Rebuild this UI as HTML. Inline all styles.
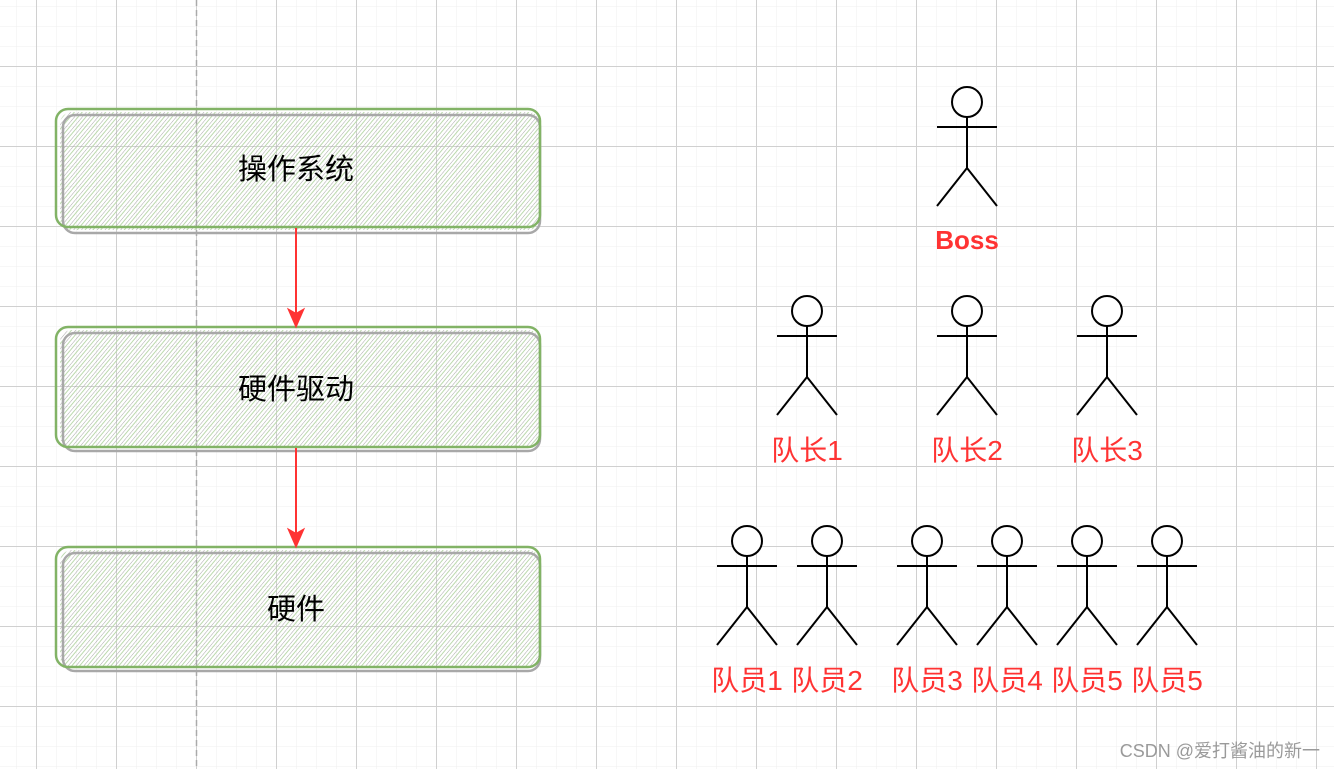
<!DOCTYPE html>
<html><head><meta charset="utf-8"><style>
html,body{margin:0;padding:0;background:#fff;}
svg{display:block;}
text{font-family:"Liberation Sans","Noto Sans CJK SC",sans-serif;}
</style></head><body>
<svg width="1334" height="769" viewBox="0 0 1334 769" xmlns="http://www.w3.org/2000/svg">
<defs>
<pattern id="minor" width="20" height="20" patternUnits="userSpaceOnUse" x="16" y="6">
<path d="M0 0H20M0 0V20" stroke="#efefef" stroke-width="1" fill="none"/>
</pattern>
<pattern id="major" width="80" height="80" patternUnits="userSpaceOnUse" x="36" y="66">
<path d="M0 0.5H80M0.5 0V80" stroke="#d0d0d0" stroke-width="1" fill="none"/>
</pattern>
<pattern id="hatch" width="6" height="6" patternUnits="userSpaceOnUse" patternTransform="rotate(40)">
<line x1="0" y1="0" x2="0" y2="6" stroke="#a8a8a8" stroke-width="1"/>
<line x1="3" y1="0" x2="3" y2="6" stroke="#bcd9ae" stroke-width="1"/>
</pattern>
</defs>
<rect width="1334" height="769" fill="#fff"/>
<rect width="1334" height="769" fill="url(#minor)"/>
<rect width="1334" height="769" fill="url(#major)"/>
<line x1="196.5" y1="0" x2="196.5" y2="769" stroke="#aaa" stroke-width="1.5" stroke-dasharray="6,4"/>

<g>
<rect x="60" y="112" width="480" height="118" rx="12" fill="url(#hatch)"/>
<rect x="63" y="115" width="477" height="118" rx="12" fill="none" stroke="#a8a8a8" stroke-width="2.5"/>
<rect x="56" y="109" width="484" height="118" rx="12" fill="none" stroke="#82b366" stroke-width="2.5"/>
<text x="296" y="179" font-size="29" text-anchor="middle" fill="#000">操作系统</text>
<rect x="60" y="330" width="480" height="118" rx="12" fill="url(#hatch)"/>
<rect x="63" y="333" width="477" height="118" rx="12" fill="none" stroke="#a8a8a8" stroke-width="2.5"/>
<rect x="56" y="327" width="484" height="120" rx="12" fill="none" stroke="#82b366" stroke-width="2.5"/>
<text x="296" y="399" font-size="29" text-anchor="middle" fill="#000">硬件驱动</text>
<rect x="60" y="550" width="480" height="118" rx="12" fill="url(#hatch)"/>
<rect x="63" y="553" width="477" height="118" rx="12" fill="none" stroke="#a8a8a8" stroke-width="2.5"/>
<rect x="56" y="547" width="484" height="120" rx="12" fill="none" stroke="#82b366" stroke-width="2.5"/>
<text x="296" y="619" font-size="29" text-anchor="middle" fill="#000">硬件</text>
</g>
<g stroke="#ff3333" stroke-width="2" fill="#ff3333">
<line x1="296" y1="228" x2="296" y2="318"/>
<path d="M289 310 L296 326 L303 310 L296 314 Z"/>
<line x1="296" y1="448" x2="296" y2="538"/>
<path d="M289 530 L296 546 L303 530 L296 534 Z"/>
</g>

<defs>
<g id="man" stroke="#000" stroke-width="2" fill="#fff">
<circle cx="0" cy="0" r="15"/>
<line x1="0" y1="15" x2="0" y2="66"/>
<line x1="-30" y1="25" x2="30" y2="25"/>
<polyline points="-30,104 0,66 30,104" fill="none"/>
</g>
</defs>
<use href="#man" x="967" y="102"/>
<text x="967" y="249" font-size="26" font-weight="bold" text-anchor="middle" fill="#ff3333" font-family="'Comic Sans MS','DejaVu Sans',sans-serif">Boss</text>

<use href="#man" x="807" y="311"/>
<use href="#man" x="967" y="311"/>
<use href="#man" x="1107" y="311"/>
<g font-size="28" fill="#ff3333" text-anchor="middle">
<text x="807" y="460">队长1</text>
<text x="967" y="460">队长2</text>
<text x="1107" y="460">队长3</text>
</g>

<use href="#man" x="747" y="541"/>
<use href="#man" x="827" y="541"/>
<use href="#man" x="927" y="541"/>
<use href="#man" x="1007" y="541"/>
<use href="#man" x="1087" y="541"/>
<use href="#man" x="1167" y="541"/>
<g font-size="28" fill="#ff3333" text-anchor="middle">
<text x="747" y="690">队员1</text>
<text x="827" y="690">队员2</text>
<text x="927" y="690">队员3</text>
<text x="1007" y="690">队员4</text>
<text x="1087" y="690">队员5</text>
<text x="1167" y="690">队员5</text>
</g>
<text x="1320" y="757" font-size="18" fill="#9a9a9a" text-anchor="end">CSDN @爱打酱油的新一</text>
</svg>
</body></html>
